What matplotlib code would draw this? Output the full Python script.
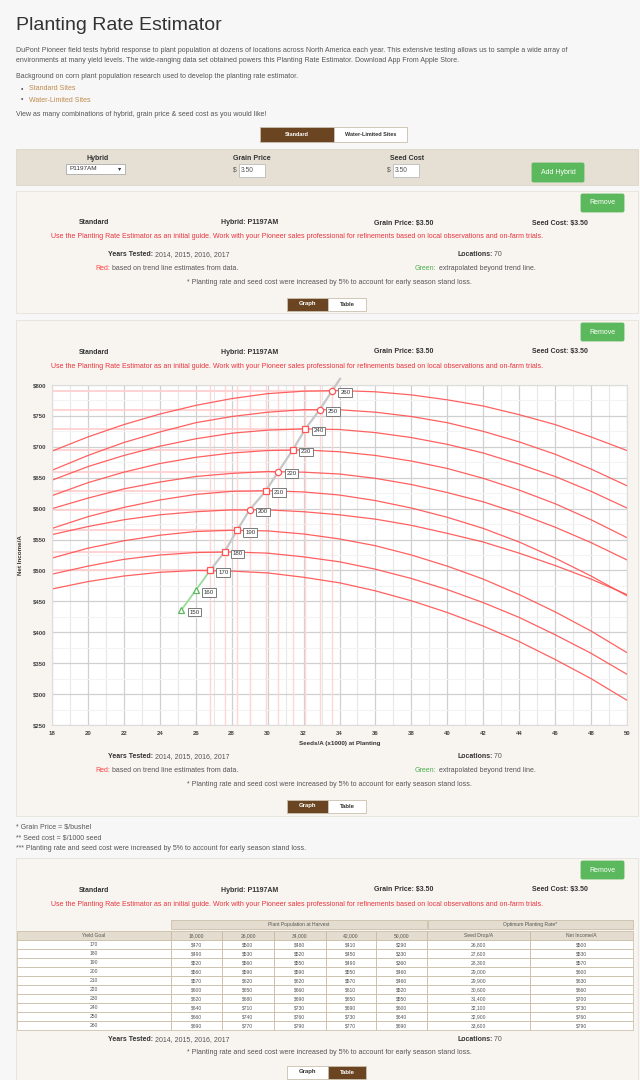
import numpy as np
import matplotlib.pyplot as plt
from matplotlib.patches import Rectangle, FancyBboxPatch

plt.rcParams['font.family'] = ['Liberation Sans', 'DejaVu Sans']

# ---- chart data (net income $/A vs seeds/A x1000) ----
seeds = [18, 20, 22, 24, 26, 28, 30, 32, 34, 36, 38, 40, 42, 44, 46, 48, 50]
yield_goals = [170, 180, 190, 200, 210, 220, 230, 240, 250, 260]
inc_170 = [470, 482, 491, 497, 500, 499, 496, 489, 480, 467, 451, 432, 410, 385, 356, 325, 290]
inc_180 = [494, 507, 518, 525, 529, 530, 528, 522, 514, 502, 487, 469, 448, 424, 396, 366, 332]
inc_190 = [520, 536, 548, 557, 563, 565, 564, 559, 551, 540, 525, 507, 486, 461, 433, 402, 367]
inc_200 = [558, 571, 582, 590, 595, 598, 598, 595, 590, 583, 573, 560, 546, 528, 508, 486, 461]
inc_210 = [568, 587, 602, 614, 623, 628, 629, 627, 622, 613, 601, 586, 568, 546, 520, 491, 459]
inc_220 = [600, 617, 632, 643, 652, 657, 660, 659, 656, 649, 639, 626, 611, 592, 570, 545, 517]
inc_230 = [621, 642, 659, 673, 683, 690, 694, 695, 692, 686, 677, 665, 649, 630, 608, 582, 553]
inc_240 = [646, 668, 686, 701, 713, 722, 727, 729, 728, 723, 715, 704, 690, 672, 652, 628, 601]
inc_250 = [662, 686, 707, 724, 739, 749, 756, 760, 760, 756, 749, 739, 725, 708, 688, 664, 637]
inc_260 = [693, 716, 736, 753, 767, 778, 786, 790, 791, 789, 784, 776, 766, 752, 736, 716, 694]
curves = [inc_170, inc_180, inc_190, inc_200, inc_210, inc_220, inc_230, inc_240, inc_250, inc_260]

opt_seeds = [26.8, 27.6, 28.3, 29.0, 29.9, 30.6, 31.4, 32.1, 32.9, 33.6]
opt_income = [500, 530, 565, 598, 629, 660, 695, 729, 760, 791]
opt_marker = ['s', 's', 's', 'o', 's', 'o', 's', 's', 'o', 'o']
trend_top = (34.03, 810)

extra_goals = [150, 160]
extra_seeds = [25.2, 26.0]
extra_income = [436, 468]

# ---- table data ----
pop_labels = ['18,000', '26,000', '34,000', '42,000', '50,000']
tbl_170 = [470, 500, 480, 410, 290]
tbl_180 = [490, 530, 520, 450, 330]
tbl_190 = [520, 560, 550, 490, 360]
tbl_200 = [560, 590, 590, 550, 460]
tbl_210 = [570, 620, 620, 570, 460]
tbl_220 = [600, 650, 660, 610, 520]
tbl_230 = [620, 680, 690, 650, 550]
tbl_240 = [640, 710, 730, 690, 600]
tbl_250 = [660, 740, 760, 730, 640]
tbl_260 = [690, 770, 790, 770, 690]
tbl_rows = [tbl_170, tbl_180, tbl_190, tbl_200, tbl_210, tbl_220, tbl_230, tbl_240, tbl_250, tbl_260]
seed_drop = [26800, 27600, 28300, 29000, 29900, 30600, 31400, 32100, 32900, 33600]
net_opt = [500, 530, 570, 600, 630, 660, 700, 730, 760, 790]

RED = '#e8333c'
GREEN_BTN = '#5cb85c'
BROWN = '#6b4522'
DARK = '#333333'
GRAY_TXT = '#555555'
FS = 5.0

fig = plt.figure(figsize=(6.4, 10.8), dpi=100, facecolor='#f7f7f7')
page = fig.add_axes([0, 0, 1, 1])
page.set_xlim(0, 640)
page.set_ylim(1080, 0)
page.axis('off')


def txt(x, y, s, size=FS, color=DARK, weight='normal', ha='left', va='center'):
    return page.text(x, y, s, fontsize=size, color=color, fontweight=weight, ha=ha, va=va)


def pair(x, y, s1, s2, c1=DARK, c2=GRAY_TXT, w1='bold', size=FS):
    t1 = txt(x, y, s1, size=size, color=c1, weight=w1)
    page.annotate(s2, xy=(1, 0), xycoords=t1, ha='left', va='bottom', fontsize=size, color=c2)


def box(x0, y0, x1, y1, fc, ec=None, lw=0.6, r=0):
    if r:
        p = FancyBboxPatch((x0, y0), x1 - x0, y1 - y0, boxstyle='round,pad=0,rounding_size=%g' % r,
                           fc=fc, ec=ec or fc, lw=lw)
    else:
        p = Rectangle((x0, y0), x1 - x0, y1 - y0, fc=fc, ec=ec or fc, lw=lw)
    page.add_patch(p)


def button(x0, y0, x1, y1, label, fc, tc, ec=None, size=4.3, weight='bold', r=1.5):
    box(x0, y0, x1, y1, fc, ec, r=r)
    txt((x0 + x1) / 2, (y0 + y1) / 2, label, size=size, color=tc, weight=weight, ha='center')


def toggle(y0, graph_on):
    on, off = (BROWN, 'white'), ('white', BROWN)
    g = on if graph_on else off
    t = off if graph_on else on
    button(287, y0, 328, y0 + 13, 'Graph', g[0], 'white' if graph_on else DARK, ec='#c9bfae', r=0)
    button(328, y0, 366, y0 + 13, 'Table', t[0], DARK if graph_on else 'white', ec='#c9bfae', r=0)


def card_head(top):
    button(581, top + 3, 624, top + 21, 'Remove', GREEN_BTN, 'white', weight='normal', size=5)
    y = top + 32
    txt(94, y, 'Standard', weight='bold', ha='center')
    txt(250, y, 'Hybrid: P1197AM', weight='bold', ha='center')
    txt(404, y, 'Grain Price: $3.50', weight='bold', ha='center')
    txt(560, y, 'Seed Cost: $3.50', weight='bold', ha='center')
    txt(297, top + 46, 'Use the Planting Rate Estimator as an initial guide. Work with your Pioneer sales '
        'professional for refinements based on local observations and on-farm trials.',
        color=RED, ha='center')


def card_foot(y, red_line=True):
    pair(108, y, 'Years Tested:', ' 2014, 2015, 2016, 2017')
    pair(457, y, 'Locations:', ' 70')
    if red_line:
        pair(95, y + 14, 'Red:', ' based on trend line estimates from data.', c1='#ff4444', c2=GRAY_TXT, w1='normal')
        pair(415, y + 14, 'Green:', ' extrapolated beyond trend line.', c1='#4cae4c', c2=GRAY_TXT, w1='normal')
        y_star = y + 27
    else:
        y_star = y + 12.5
    txt(329, y_star, '* Planting rate and seed cost were increased by 5% to account for early season stand loss.',
        color=GRAY_TXT, ha='center')
    return y_star


# ---- header area ----
txt(16, 25, 'Planting Rate Estimator', size=14, color=DARK)
txt(16, 50, 'DuPont Pioneer field tests hybrid response to plant population at dozens of locations across North '
    'America each year. This extensive testing allows us to sample a wide array of', color=GRAY_TXT)
txt(16, 61, 'environments at many yield levels. The wide-ranging data set obtained powers this Planting Rate '
    'Estimator. Download App From Apple Store.', color=GRAY_TXT)
txt(16, 76, 'Background on corn plant population research used to develop the planting rate estimator.', color=GRAY_TXT)
txt(21, 89, '\u2022', color=GRAY_TXT)
txt(29, 89, 'Standard Sites', color='#c08a4c')
txt(21, 100, '\u2022', color=GRAY_TXT)
txt(29, 100, 'Water-Limited Sites', color='#c08a4c')
txt(16, 115, 'View as many combinations of hybrid, grain price & seed cost as you would like!', color=GRAY_TXT)
button(260, 127, 334, 141.5, 'Standard', BROWN, 'white', ec='#c9bfae', r=0, size=4)
button(334, 127, 407, 141.5, 'Water-Limited Sites', 'white', DARK, ec='#c9bfae', r=0, size=4)

# ---- input panel ----
box(16, 149, 638, 185, '#e6e0d4', ec='#ddd6c8')
txt(98, 158, 'Hybrid', weight='bold', ha='center')
txt(252, 158, 'Grain Price', weight='bold', ha='center')
txt(407, 158, 'Seed Cost', weight='bold', ha='center')
box(66, 164, 125, 174, 'white', ec='#aaaaaa')
txt(69, 169, 'P1197AM', size=4.6)
txt(118, 169, '\u25be', size=4.6)
for xs in (236, 390):
    txt(xs - 3, 170.5, '$', size=4.8, color=GRAY_TXT)
    box(xs + 3, 164, xs + 29, 177, 'white', ec='#bbbbbb')
    txt(xs + 5, 170.5, '3.50', size=4.8, color=GRAY_TXT)
button(532, 163, 584, 182, 'Add Hybrid', GREEN_BTN, 'white', weight='normal', size=5)

# ---- card 1 ----
box(16, 191, 638, 313, '#f8f5f1', ec='#e6e1da')
card_head(191)
card_foot(255)
toggle(297.5, True)

# ---- card 2 (graph) ----
box(16, 320, 638, 816, '#f8f5f1', ec='#e6e1da')
card_head(320)
card_foot(757)
toggle(799.5, True)

# ---- footnotes ----
txt(16, 827, '* Grain Price = $/bushel', color=GRAY_TXT)
txt(16, 838, '** Seed cost = $/1000 seed', color=GRAY_TXT)
txt(16, 849, '*** Planting rate and seed cost were increased by 5% to account for early season stand loss.',
    color=GRAY_TXT)

# ---- card 3 (table) ----
box(16, 858, 638, 1090, '#f8f5f1', ec='#e6e1da')
card_head(858)
edges = [17, 171, 222, 274, 326, 376, 427, 530, 633]
HEAD = '#e4ddcf'
LINE = '#c3b79f'
TS = 3.6
box(171, 920, 427, 928.5, HEAD, ec=LINE, lw=0.5)
box(428, 920, 633, 928.5, HEAD, ec=LINE, lw=0.5)
txt(299, 924.3, 'Plant Population at Harvest', size=TS, color=GRAY_TXT, ha='center')
txt(530.5, 924.3, 'Optimum Planting Rate*', size=TS, color=GRAY_TXT, ha='center')
head_labels = ['Yield Goal'] + pop_labels + ['Seed Drop/A', 'Net Income/A']
for i, lab in enumerate(head_labels):
    box(edges[i], 931, edges[i + 1], 940, HEAD, ec=LINE, lw=0.5)
    txt((edges[i] + edges[i + 1]) / 2, 935.5, lab, size=TS, color=GRAY_TXT, ha='center')
for r, goal in enumerate(yield_goals):
    y0 = 940 + 9 * r
    cells = [str(goal)] + ['$%d' % v for v in tbl_rows[r]] + ['{:,}'.format(seed_drop[r]), '$%d' % net_opt[r]]
    for i, c in enumerate(cells):
        box(edges[i], y0, edges[i + 1], y0 + 9, 'white', ec=LINE, lw=0.5)
        txt((edges[i] + edges[i + 1]) / 2, y0 + 4.6, c, size=TS, color=GRAY_TXT, ha='center')
card_foot(1039.5, red_line=False)
toggle(1065.5, False)

# ---- the chart ----
ax = fig.add_axes([52 / 640, 1 - 725 / 1080, 575 / 640, 340 / 1080])
ax.set_facecolor('white')
ax.set_xlim(18, 50)
ax.set_ylim(250, 800)
ax.set_xticks(np.arange(18, 51, 2))
ax.set_xticks(np.arange(19, 50, 2), minor=True)
ax.set_yticks(np.arange(250, 801, 50))
ax.set_yticks(np.arange(275, 800, 50), minor=True)
ax.set_yticklabels(['$%d' % v for v in np.arange(250, 801, 50)])
ax.grid(which='major', color='#d0d0d0', lw=0.9)
ax.grid(which='minor', axis='x', color='#e8e8e8', lw=0.8)
ax.grid(which='minor', axis='y', color='#f3f3f3', lw=0.8)
ax.set_axisbelow(True)
ax.tick_params(which='both', length=0, pad=4, labelsize=4.3, labelcolor='#444444')
for lab in ax.get_xticklabels() + ax.get_yticklabels():
    lab.set_fontweight('bold')
for s in ax.spines.values():
    s.set_color('#dddddd')
    s.set_linewidth(0.8)
ax.set_xlabel('Seeds/A (x1000) at Planting', fontsize=4.5, fontweight='bold', color=DARK, labelpad=4)
ax.set_ylabel('Net Income/A', fontsize=4.5, fontweight='bold', color=DARK, labelpad=7)

for xs, ys in zip(opt_seeds, opt_income):
    ax.axvline(xs, color='#ffd6d6', lw=1.0, zorder=1)
    ax.plot([18, xs], [ys, ys], color='#ffd0d0', lw=1.3, zorder=1)

for c in curves:
    ax.plot(seeds, c, color='#ff5050', lw=0.9, alpha=0.9, zorder=2)

ax.plot(opt_seeds + [trend_top[0]], opt_income + [trend_top[1]], color='#c6c6c6', lw=1.6,
        zorder=3, clip_on=False)
ax.plot(extra_seeds + [opt_seeds[0]], extra_income + [opt_income[0]], color='#97dd97', lw=1.3, zorder=3)

for xs, ys, m, g in zip(opt_seeds, opt_income, opt_marker, yield_goals):
    ax.plot(xs, ys, m, ms=4.5, mfc='white', mec='#ff5555', mew=0.9, zorder=5, clip_on=False)
    ax.annotate(str(g), (xs, ys), xytext=(8, -2), textcoords='offset pixels', ha='left', va='center',
                fontsize=4.4, color=DARK, zorder=6,
                bbox=dict(boxstyle='square,pad=0.3', fc='white', ec='#7a7a7a', lw=0.7))
for xs, ys, g in zip(extra_seeds, extra_income, extra_goals):
    ax.plot(xs, ys, '^', ms=5, mfc='white', mec='#5cb85c', mew=0.9, zorder=5)
    ax.annotate(str(g), (xs, ys), xytext=(8, -2), textcoords='offset pixels', ha='left', va='center',
                fontsize=4.4, color=DARK, zorder=6,
                bbox=dict(boxstyle='square,pad=0.3', fc='white', ec='#7a7a7a', lw=0.7))

fig.savefig('out.png', dpi=100, facecolor=fig.get_facecolor())
